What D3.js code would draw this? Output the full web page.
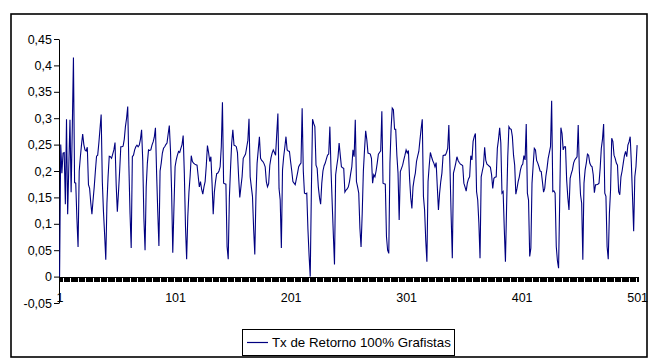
<!DOCTYPE html>
<html><head><meta charset="utf-8">
<script src="https://cdn.jsdelivr.net/npm/d3@7/dist/d3.min.js"></script>
<style>
html,body{margin:0;padding:0;background:#fff;}
svg{display:block;font-family:"Liberation Sans",Arial,sans-serif;}
</style></head>
<body>
<svg id="chart" width="654" height="358"></svg>
<script>
const seriesName = "Tx de Retorno 100% Grafistas";
const yTickValues = [0.45,0.4,0.35,0.3,0.25,0.2,0.15,0.1,0.05,0,-0.05];
const yTickLabels = ["0,45","0,4","0,35","0,3","0,25","0,2","0,15","0,1","0,05","0","-0,05"];
const xLabelValues = [1,101,201,301,401,501];
const xLabels = ["1","101","201","301","401","501"];
const values = [
0,0.25,0.196,0.234,0.235,0.137,0.298,0.118,0.21,0.297,
0.16,0.28,0.415,0.178,0.177,0.11,0.056,0.2,0.227,0.25,
0.27,0.25,0.24,0.238,0.245,0.174,0.167,0.14,0.118,0.145,
0.17,0.2,0.228,0.23,0.253,0.28,0.307,0.18,0.123,0.08,
0.032,0.139,0.19,0.228,0.227,0.224,0.232,0.24,0.254,0.174,
0.123,0.16,0.2,0.246,0.246,0.247,0.26,0.284,0.3,0.322,
0.21,0.119,0.054,0.227,0.23,0.24,0.246,0.249,0.246,0.249,
0.26,0.278,0.22,0.11,0.05,0.17,0.215,0.24,0.239,0.24,
0.249,0.255,0.264,0.282,0.196,0.123,0.058,0.2,0.215,0.234,
0.243,0.246,0.25,0.253,0.27,0.286,0.24,0.16,0.045,0.13,
0.208,0.221,0.23,0.237,0.235,0.243,0.25,0.267,0.196,0.095,
0.033,0.114,0.16,0.19,0.229,0.218,0.215,0.213,0.212,0.211,
0.19,0.17,0.18,0.165,0.156,0.17,0.18,0.21,0.248,0.235,
0.218,0.227,0.177,0.118,0.16,0.18,0.195,0.196,0.2,0.208,
0.246,0.33,0.177,0.176,0.175,0.057,0.033,0.15,0.205,0.253,
0.278,0.249,0.248,0.246,0.235,0.189,0.15,0.17,0.189,0.224,
0.228,0.232,0.245,0.258,0.299,0.189,0.17,0.152,0.09,0.042,
0.152,0.215,0.24,0.265,0.224,0.22,0.218,0.214,0.208,0.18,
0.17,0.176,0.211,0.225,0.234,0.24,0.235,0.23,0.27,0.309,
0.167,0.145,0.054,0.202,0.227,0.245,0.265,0.24,0.238,0.237,
0.218,0.2,0.18,0.177,0.174,0.185,0.196,0.208,0.212,0.215,
0.319,0.2,0.158,0.157,0.158,0.09,0.04,0.0,0.164,0.298,
0.29,0.284,0.211,0.205,0.17,0.15,0.137,0.177,0.2,0.21,
0.215,0.223,0.23,0.232,0.284,0.202,0.14,0.08,0.023,0.193,
0.21,0.225,0.253,0.23,0.208,0.206,0.205,0.16,0.164,0.166,
0.17,0.18,0.195,0.208,0.24,0.227,0.297,0.18,0.17,0.158,
0.092,0.056,0.12,0.2,0.24,0.276,0.259,0.234,0.233,0.232,
0.224,0.177,0.193,0.189,0.2,0.215,0.232,0.235,0.238,0.313,
0.177,0.176,0.175,0.076,0.05,0.044,0.215,0.28,0.319,0.316,
0.279,0.279,0.23,0.196,0.107,0.199,0.205,0.211,0.221,0.23,
0.24,0.234,0.239,0.186,0.15,0.129,0.17,0.185,0.196,0.218,
0.228,0.237,0.259,0.28,0.298,0.152,0.126,0.069,0.028,0.18,
0.21,0.235,0.227,0.22,0.215,0.208,0.216,0.17,0.126,0.158,
0.18,0.196,0.229,0.23,0.23,0.235,0.243,0.287,0.205,0.114,
0.035,0.196,0.205,0.215,0.227,0.22,0.216,0.213,0.212,0.21,
0.177,0.17,0.162,0.177,0.185,0.189,0.229,0.221,0.256,0.265,
0.271,0.161,0.145,0.101,0.035,0.189,0.2,0.21,0.245,0.22,
0.213,0.211,0.209,0.207,0.193,0.167,0.186,0.188,0.189,0.243,
0.26,0.282,0.253,0.158,0.161,0.09,0.028,0.133,0.227,0.284,
0.28,0.279,0.265,0.23,0.211,0.156,0.167,0.18,0.189,0.202,
0.21,0.213,0.229,0.221,0.289,0.158,0.145,0.038,0.054,0.177,
0.211,0.243,0.24,0.22,0.215,0.208,0.2,0.199,0.18,0.16,
0.167,0.19,0.205,0.224,0.235,0.246,0.333,0.161,0.162,0.158,
0.057,0.03,0.016,0.148,0.282,0.271,0.24,0.246,0.246,0.183,
0.15,0.126,0.186,0.195,0.202,0.215,0.221,0.224,0.227,0.287,
0.2,0.155,0.139,0.032,0.177,0.202,0.215,0.232,0.23,0.215,
0.21,0.208,0.193,0.159,0.174,0.174,0.175,0.177,0.205,0.243,
0.26,0.289,0.158,0.152,0.057,0.033,0.12,0.164,0.262,0.256,
0.23,0.224,0.215,0.211,0.161,0.155,0.189,0.2,0.215,0.229,
0.237,0.227,0.249,0.255,0.265,0.215,0.152,0.086,0.189,0.208,
0.249
];
const categories = values.map((d,i)=>i+1);

const svg = d3.select("#chart");
// chart border
svg.append("rect").attr("x",11).attr("y",14).attr("width",636).attr("height",343)
  .attr("fill","#fff").attr("stroke","#000").attr("stroke-width",1.6);

const x = d3.scaleLinear().domain([0.5, categories.length + 0.5]).range([59, 637.7]);
const y = d3.scaleLinear().domain([-0.05, 0.45]).range([303, 39]);

// Y axis
const yAxis = d3.axisLeft(y).tickValues(yTickValues)
  .tickFormat((d,i)=>yTickLabels[i]).tickSizeInner(5).tickSizeOuter(0).tickPadding(2);
const gy = svg.append("g").attr("transform","translate(59,0)").call(yAxis);
gy.selectAll("text").attr("font-size","12.5px").attr("fill","#000");
gy.selectAll("line,path").attr("stroke","#000");

// X axis at zero with a tick between every category
const xBounds = d3.range(0, categories.length + 1).map(i=>i+0.5);
const xAxis = d3.axisBottom(x).tickValues(xBounds).tickFormat("").tickSizeInner(5).tickSizeOuter(0);
const gx = svg.append("g").attr("transform",`translate(0,${y(0)})`).call(xAxis);
gx.selectAll("line,path").attr("stroke","#000").attr("stroke-width",1).attr("shape-rendering","crispEdges");

// X labels (low position)
const xLabAxis = d3.axisBottom(x).tickValues(xLabelValues).tickFormat((d,i)=>xLabels[i]).tickSize(0).tickPadding(0);
const gxl = svg.append("g").attr("transform","translate(0,293)").call(xLabAxis);
gxl.select(".domain").remove();
gxl.selectAll("text").attr("font-size","12.5px").attr("fill","#000").attr("dy","0.75em");

// Series line
const line = d3.line().x((d,i)=>x(categories[i])).y(d=>y(d));
svg.append("path").datum(values).attr("d",line)
  .attr("fill","none").attr("stroke","#000080").attr("stroke-width",1.1).attr("stroke-linejoin","miter");

// Legend
const lg = svg.append("g");
lg.append("rect").attr("x",242.5).attr("y",329.5).attr("width",212).attr("height",26)
  .attr("fill","#fff").attr("stroke","#000").attr("stroke-width",1);
lg.append("line").attr("x1",247).attr("x2",268).attr("y1",342.5).attr("y2",342.5)
  .attr("stroke","#000080").attr("stroke-width",1.2);
lg.append("text").attr("x",272).attr("y",347).attr("font-size","13.3px").attr("fill","#000").text(seriesName);
</script>
</body></html>
